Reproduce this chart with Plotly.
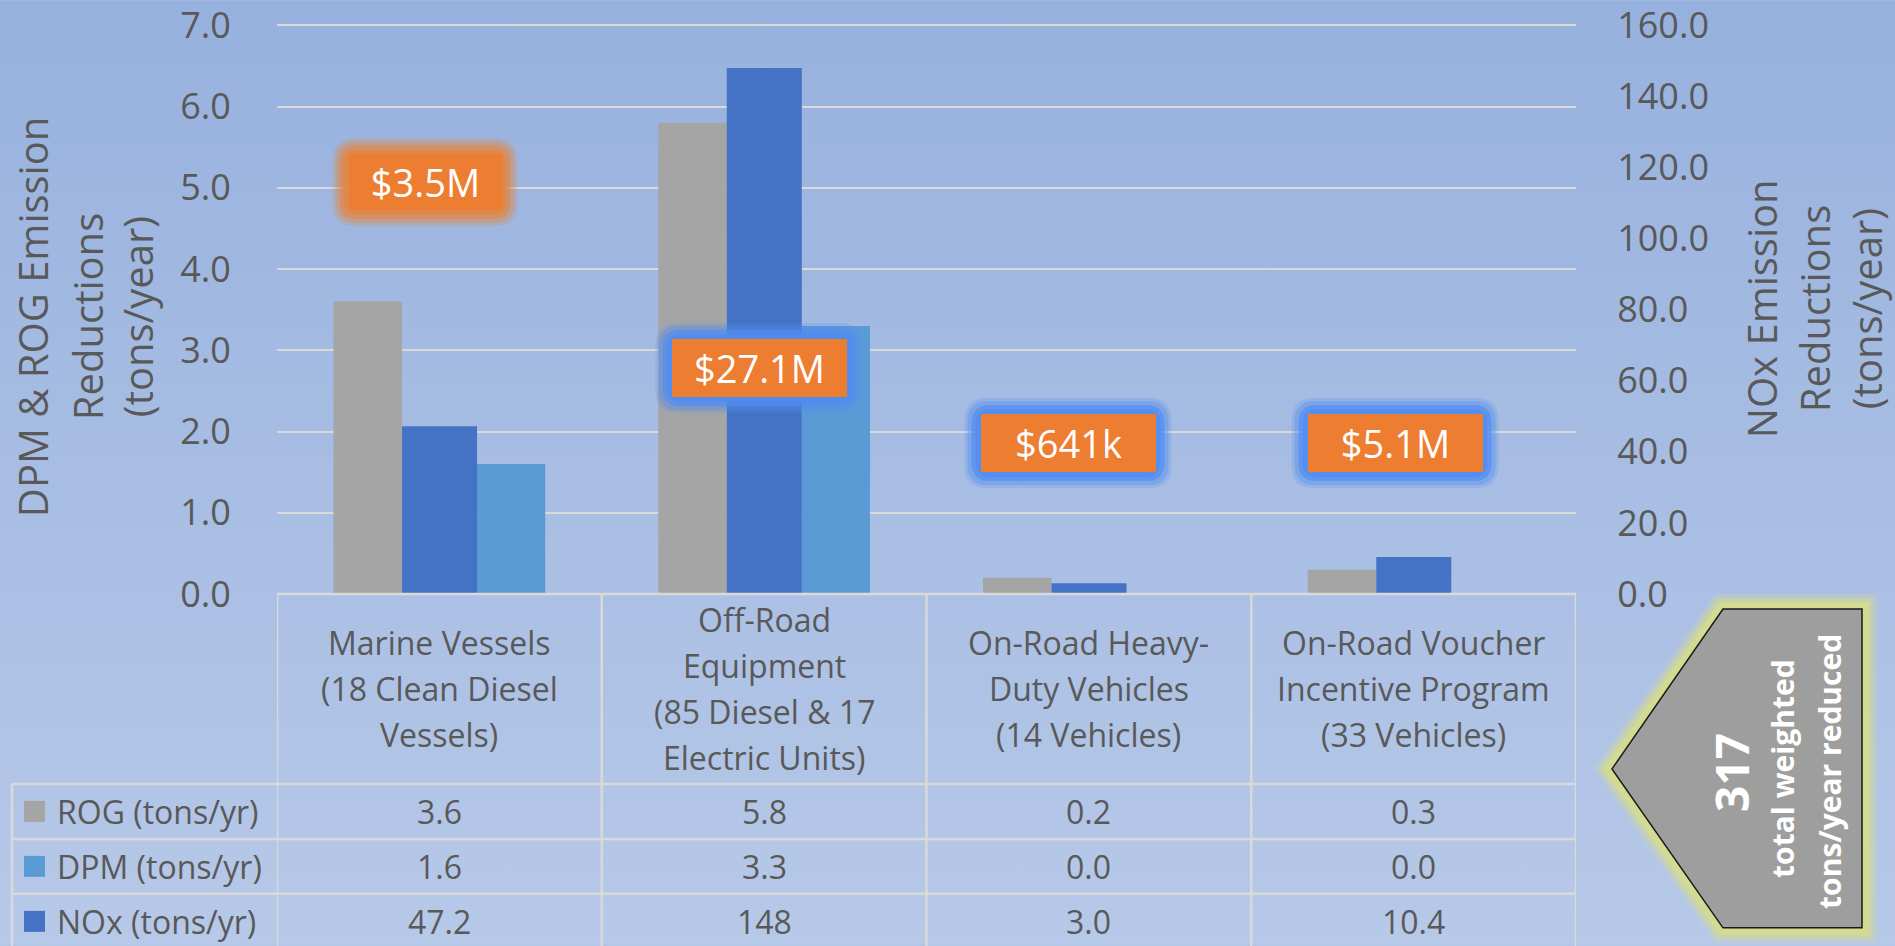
import base64
import plotly.graph_objects as go

# ---------------- data ----------------
categories = ["Marine Vessels", "Off-Road Equipment",
              "On-Road Heavy-Duty Vehicles", "On-Road Voucher Incentive Program"]
category_lines = [
    ["Marine Vessels", "(18 Clean Diesel", "Vessels)"],
    ["Off-Road", "Equipment", "(85 Diesel & 17", "Electric Units)"],
    ["On-Road Heavy-", "Duty Vehicles", "(14 Vehicles)"],
    ["On-Road Voucher", "Incentive Program", "(33 Vehicles)"],
]
rog = [3.6, 5.8, 0.2, 0.3]
dpm = [1.6, 3.3, 0.0, 0.0]
nox = [47.2, 148, 3.0, 10.4]
series_names = ["ROG (tons/yr)", "DPM (tons/yr)", "NOx (tons/yr)"]
funding = ["$3.5M", "$27.1M", "$641k", "$5.1M"]
total_weighted = 317
total_lines = ["total weighted", "tons/year reduced"]
left_ticks = [0, 1, 2, 3, 4, 5, 6, 7]
right_ticks = [0, 20, 40, 60, 80, 100, 120, 140, 160]
left_title_lines = ["DPM & ROG Emission", "Reductions", "(tons/year)"]
right_title_lines = ["NOx Emission", "Reductions", "(tons/year)"]

# ---------------- geometry / style ----------------
W, H = 1895, 946
LEFT_MAX, RIGHT_MAX = 7, 160
HEAD = 1.0075                      # small headroom so the top gridline is kept
PL, PR, PB = 277, 1576, 594
PT = PB - (PB - 25) * HEAD


def fx(p):
    return (p - PL) / (PR - PL)


def fy(p):
    return (PB - p) / (PB - PT)


GRAY = "#A5A5A5"
NAVY = "#4472C4"
SKY = "#5B9BD5"
TXT = "#595959"
LINE = "#D9D9D9"
ORANGE = "#ED7D31"
FONT = "Open Sans"

fig = go.Figure()
fig.add_trace(go.Bar(x=categories, y=rog, name=series_names[0],
                     marker=dict(color=GRAY, line=dict(width=0)),
                     offset=-0.326, width=0.211, yaxis="y"))
fig.add_trace(go.Bar(x=categories, y=dpm, name=series_names[1],
                     marker=dict(color=SKY, line=dict(width=0)),
                     offset=0.116, width=0.21, yaxis="y"))
fig.add_trace(go.Bar(x=categories, y=nox, name=series_names[2],
                     marker=dict(color=NAVY, line=dict(width=0)),
                     offset=-0.115, width=0.231, yaxis="y2"))

fig.update_layout(
    width=W, height=H, autosize=False,
    margin=dict(l=PL, r=W - PR, t=PT, b=H - PB, pad=0, autoexpand=False),
    paper_bgcolor="#A8BEE4", plot_bgcolor="rgba(0,0,0,0)",
    showlegend=False, barmode="overlay",
    font=dict(family=FONT, color=TXT),
    xaxis=dict(type="category", range=[-0.5, 3.5], showticklabels=False,
               showgrid=False, zeroline=False, showline=False, ticks="",
               automargin=False),
    yaxis=dict(range=[0, LEFT_MAX * HEAD], tickvals=left_ticks, tickformat=".1f",
               showgrid=True, gridcolor=LINE, gridwidth=2, zeroline=False,
               showline=False, ticks="outside", ticklen=38, automargin=False,
               tickcolor="rgba(0,0,0,0)", ticklabeloverflow="allow",
               tickfont=dict(size=36, color=TXT, family=FONT)),
    yaxis2=dict(overlaying="y", side="right", range=[0, RIGHT_MAX * HEAD],
                tickvals=right_ticks, tickformat=".1f", showgrid=False,
                zeroline=False, showline=False, ticks="outside", ticklen=33,
                automargin=False,
                tickcolor="rgba(0,0,0,0)", ticklabeloverflow="allow",
                tickfont=dict(size=36, color=TXT, family=FONT)),
)

# background gradient
svg = ('<svg xmlns="http://www.w3.org/2000/svg" width="1895" height="946">'
       '<defs><linearGradient id="g" x1="0" y1="0" x2="0" y2="1">'
       '<stop offset="0" stop-color="#97B1DE"/>'
       '<stop offset="1" stop-color="#B7C9E8"/></linearGradient></defs>'
       '<rect width="1895" height="946" fill="url(#g)"/></svg>')
fig.add_layout_image(
    source="data:image/svg+xml;base64," + base64.b64encode(svg.encode()).decode(),
    xref="paper", yref="paper", x=fx(0), y=fy(0),
    sizex=fx(W) - fx(0), sizey=fy(0) - fy(H),
    xanchor="left", yanchor="top", sizing="stretch", layer="below")

shapes = []
annotations = []


def text_ann(text, x, y, size, color=TXT, xref="paper", angle=0, xanchor="center", **kw):
    d = dict(text=text, x=x, y=y, xref=xref, yref="paper", showarrow=False,
             xanchor=xanchor, yanchor="middle", textangle=angle,
             font=dict(size=size, color=color, family=FONT))
    d.update(kw)
    return d


# ---------------- axis titles ----------------
for txt, xp in zip(left_title_lines, [32, 87, 137]):
    annotations.append(text_ann(txt, fx(xp), fy(317), 40, angle=-90))
for txt, xp in zip(right_title_lines, [1761, 1814, 1866]):
    annotations.append(text_ann(txt, fx(xp), fy(309), 40, angle=-90))

# ---------------- data table ----------------
TBL_LEFT = 12
HEADER_BOTTOM = 784
ROW_H = 55
TBL_BOTTOM = HEADER_BOTTOM + 3 * ROW_H

shapes.append(dict(type="line", xref="x", yref="paper", x0=-0.5, x1=3.5,
                   y0=0, y1=0, line=dict(color=LINE, width=2.5), layer="above"))
for k in range(len(categories) + 1):
    shapes.append(dict(type="line", xref="x", yref="paper", x0=k - 0.5, x1=k - 0.5,
                       y0=0, y1=fy(TBL_BOTTOM + 10), line=dict(color=LINE, width=2.5),
                       layer="above"))
for r in range(3):
    yline = HEADER_BOTTOM + r * ROW_H
    shapes.append(dict(type="line", xref="paper", yref="paper", x0=fx(TBL_LEFT), x1=1,
                       y0=fy(yline), y1=fy(yline), line=dict(color=LINE, width=2.5),
                       layer="above"))
shapes.append(dict(type="line", xref="paper", yref="paper", x0=fx(TBL_LEFT), x1=fx(TBL_LEFT),
                   y0=fy(HEADER_BOTTOM), y1=fy(TBL_BOTTOM + 10),
                   line=dict(color=LINE, width=2.5), layer="above"))

HEADER_CENTER = 688.5
PITCH = 46
for k, lines in enumerate(category_lines):
    n = len(lines)
    for i, ln in enumerate(lines):
        yc = HEADER_CENTER + (i - (n - 1) / 2) * PITCH
        annotations.append(text_ann(ln, k, fy(yc), 32, xref="x"))


def fmt(v):
    return f"{v:.0f}" if v >= 100 else f"{v:.1f}"


rows = [(series_names[0], rog, GRAY), (series_names[1], dpm, SKY), (series_names[2], nox, NAVY)]
for r, (name, vals, col) in enumerate(rows):
    yc = HEADER_BOTTOM + r * ROW_H + ROW_H / 2
    shapes.append(dict(type="rect", xref="paper", yref="paper",
                       x0=fx(24), x1=fx(45), y0=fy(yc - 10.5), y1=fy(yc + 10.5),
                       fillcolor=col, line=dict(width=0), layer="above"))
    annotations.append(text_ann(name, fx(55), fy(yc), 32, xanchor="left"))
    for k, v in enumerate(vals):
        annotations.append(text_ann(fmt(v), k, fy(yc), 32, xref="x"))


# ---------------- funding call-outs ----------------
def rounded(w, h, r):
    x0, x1, y0, y1 = -w / 2, w / 2, -h / 2, h / 2
    return (f"M {x0 + r},{y0} L {x1 - r},{y0} Q {x1},{y0} {x1},{y0 + r} "
            f"L {x1},{y1 - r} Q {x1},{y1} {x1 - r},{y1} L {x0 + r},{y1} "
            f"Q {x0},{y1} {x0},{y1 - r} L {x0},{y0 + r} Q {x0},{y0} {x0 + r},{y0} Z")


box_centers = [(425, 182), (759, 368), (1068, 443), (1395, 443)]
box_sizes = [(153, 56), (175, 58), (175, 58), (175, 58)]
glow_rgb = ["225,135,70", "80,140,240", "80,140,240", "80,140,240"]
for txt, (cx, cy), (bw, bh), g in zip(funding, box_centers, box_sizes, glow_rgb):
    for grow, alpha in [(32, 0.22), (26, 0.35), (18, 0.6), (10, 0.8)]:
        shapes.append(dict(type="path", xref="paper", yref="paper",
                           xsizemode="pixel", ysizemode="pixel",
                           xanchor=fx(cx), yanchor=fy(cy),
                           path=rounded(bw + grow, bh + grow, 12 + grow / 3),
                           fillcolor=f"rgba({g},{alpha})", line=dict(width=0),
                           layer="above"))
    annotations.append(text_ann(txt, fx(cx), fy(cy), 38, color="white",
                                width=bw, height=bh, bgcolor=ORANGE, borderpad=0,
                                borderwidth=0))

# ---------------- total arrow ----------------
pts = [(1723, 609), (1862, 609), (1862, 928), (1723, 928), (1612, 769)]
apath = "M " + " L ".join(f"{fx(a):.5f},{fy(b):.5f}" for a, b in pts) + " Z"
for wdt, alpha in [(30, 0.25), (22, 0.45), (14, 0.8)]:
    shapes.append(dict(type="path", xref="paper", yref="paper", path=apath,
                       line=dict(color=f"rgba(214,220,138,{alpha})", width=wdt),
                       fillcolor="rgba(0,0,0,0)", layer="above"))
shapes.append(dict(type="path", xref="paper", yref="paper", path=apath,
                   fillcolor="#9E9E9E", line=dict(color="#1a1a1a", width=1.5),
                   layer="above"))
annotations.append(text_ann(f"<b>{total_weighted}</b>", fx(1731), fy(772), 46,
                            color="white", angle=-90))
for txt, xp, yp in zip(total_lines, [1783, 1830], [769, 772]):
    annotations.append(text_ann(f"<b>{txt}</b>", fx(xp), fy(yp), 30,
                                color="white", angle=-90))

fig.update_layout(shapes=shapes, annotations=annotations)
fig.write_html("out.html",
               config={"displayModeBar": False},
               post_script="document.body.style.margin='0';"
                           "document.body.style.padding='0';"
                           "document.body.style.overflow='hidden';")
